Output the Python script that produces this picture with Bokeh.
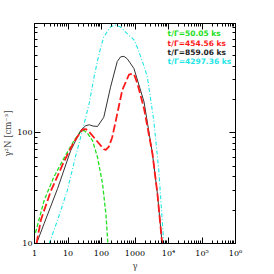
from bokeh.plotting import figure
from bokeh.models import LogAxis, FixedTicker, Label, Range1d
from bokeh.embed import file_html
from bokeh.resources import INLINE

# ---- data ----
gamma_green = [1.07, 1.23, 1.95, 3.8, 7.6, 15.1, 24, 30, 38, 54, 76, 107, 135, 155]
n_green = [12.5, 14.6, 24.6, 40, 59, 85, 103, 105, 99, 85, 60, 35, 18.6, 10]

gamma_red = [1.15, 1.55, 3.1, 7.6, 15.1, 27, 34, 43, 76, 117, 135, 166, 209, 295, 417,
             661, 832, 933, 1175, 1862, 3311, 4677, 6457]
n_red = [10, 16.3, 30, 55, 83, 107, 108, 102, 83, 71, 70, 75, 91, 148, 243,
         335, 342, 338, 280, 165, 65, 28, 10]

gamma_black = [1.15, 1.95, 4.9, 12, 24, 34, 43, 56, 76, 117, 186, 295, 372, 468, 589,
               933, 1862, 3311, 4677, 6457]
n_black = [10, 15.2, 31.4, 69, 105, 116, 118, 115, 114, 138, 258, 440, 485, 490, 465,
           380, 190, 65, 28, 10]

gamma_cyan = [2.75, 4.9, 9.5, 17, 27, 43, 60, 85, 117, 186, 263, 372, 525, 741, 933,
              1175, 1862, 2344, 3631, 5129, 7244]
n_cyan = [10, 16.3, 30, 62, 105, 184, 320, 520, 735, 905, 940, 900, 810, 735, 690,
          590, 400, 317, 129, 46, 10]

legend_labels = ["t/\u0393=50.05 ks", "t/\u0393=454.56 ks", "t/\u0393=859.06 ks", "t/\u0393=4297.36 ks"]
legend_colors = ["#22e022", "#ff1a1a", "#222222", "#22e6e6"]
legend_y = [795, 646, 535, 443]
legend_x = 9400

x_major = [1, 10, 100, 1000, 10000, 100000, 1000000]
x_tick_labels = ["1", "10", "100", "1000", "10\u2074", "10\u2075", "10\u2076"]
y_major = [10, 100]
y_tick_labels = ["10", "100"]
minor_steps = [2, 3, 4, 5, 6, 7, 8, 9]
x_minor = [m * d for d in x_major[:-1] for m in minor_steps]
y_minor = [m * d for d in [10, 100] for m in minor_steps]

FONT = "DejaVu Serif"

p = figure(frame_width=201, frame_height=220, x_axis_type="log", y_axis_type="log",
           x_range=Range1d(1, 1e6), y_range=Range1d(10, 970),
           output_backend="svg", toolbar_location=None,
           min_border_left=34, min_border_right=31, min_border_top=23, min_border_bottom=28)
p.grid.visible = False
p.background_fill_color = "white"
p.border_fill_color = "white"
p.outline_line_color = "black"
p.outline_line_width = 1

p.line(gamma_green, n_green, color=legend_colors[0], line_width=1.3, line_dash="4 2")
p.line(gamma_cyan, n_cyan, color=legend_colors[3], line_width=1.1, line_dash="4 2 1 2")
p.line(gamma_black, n_black, color="#333333", line_width=1)
p.line(gamma_red, n_red, color=legend_colors[1], line_width=1.8, line_dash="8 3")

for lab, col, yy in zip(legend_labels, legend_colors, legend_y):
    p.add_layout(Label(x=legend_x, y=yy, text=lab, text_color=col,
                       text_font="DejaVu Sans", text_font_size="7.5px",
                       text_font_style="bold", text_baseline="middle"))

def style(ax):
    ax.major_tick_in = 6
    ax.major_tick_out = 0
    ax.minor_tick_in = 3
    ax.minor_tick_out = 0
    ax.axis_line_color = "black"
    ax.major_tick_line_color = "black"
    ax.minor_tick_line_color = "black"
    ax.major_label_text_font = FONT
    ax.major_label_text_font_size = "8px"
    ax.major_label_text_color = "black"
    ax.axis_label_text_font = FONT
    ax.axis_label_text_font_size = "8.5px"
    ax.axis_label_text_font_style = "normal"

xa = p.xaxis[0]
xa.ticker = FixedTicker(ticks=x_major, minor_ticks=x_minor)
xa.major_label_overrides = dict(zip(x_major, x_tick_labels))
xa.axis_label = "\u03b3"
xa.axis_label_standoff = 0
xa.major_label_standoff = 5
style(xa)

ya = p.yaxis[0]
ya.ticker = FixedTicker(ticks=y_major, minor_ticks=y_minor)
ya.major_label_overrides = dict(zip(y_major, y_tick_labels))
ya.axis_label = "\u03b3\u00b2N [cm\u207b\u00b3]"
ya.axis_label_standoff = 1
ya.major_label_standoff = 2
style(ya)

top = LogAxis(ticker=FixedTicker(ticks=x_major, minor_ticks=x_minor))
style(top)
top.major_label_text_alpha = 0
top.major_label_standoff = 0
p.add_layout(top, "above")

right = LogAxis(ticker=FixedTicker(ticks=y_major, minor_ticks=y_minor))
style(right)
right.major_label_text_alpha = 0
right.major_label_standoff = 0
p.add_layout(right, "right")

open("out.html", "w").write(file_html(p, INLINE))
